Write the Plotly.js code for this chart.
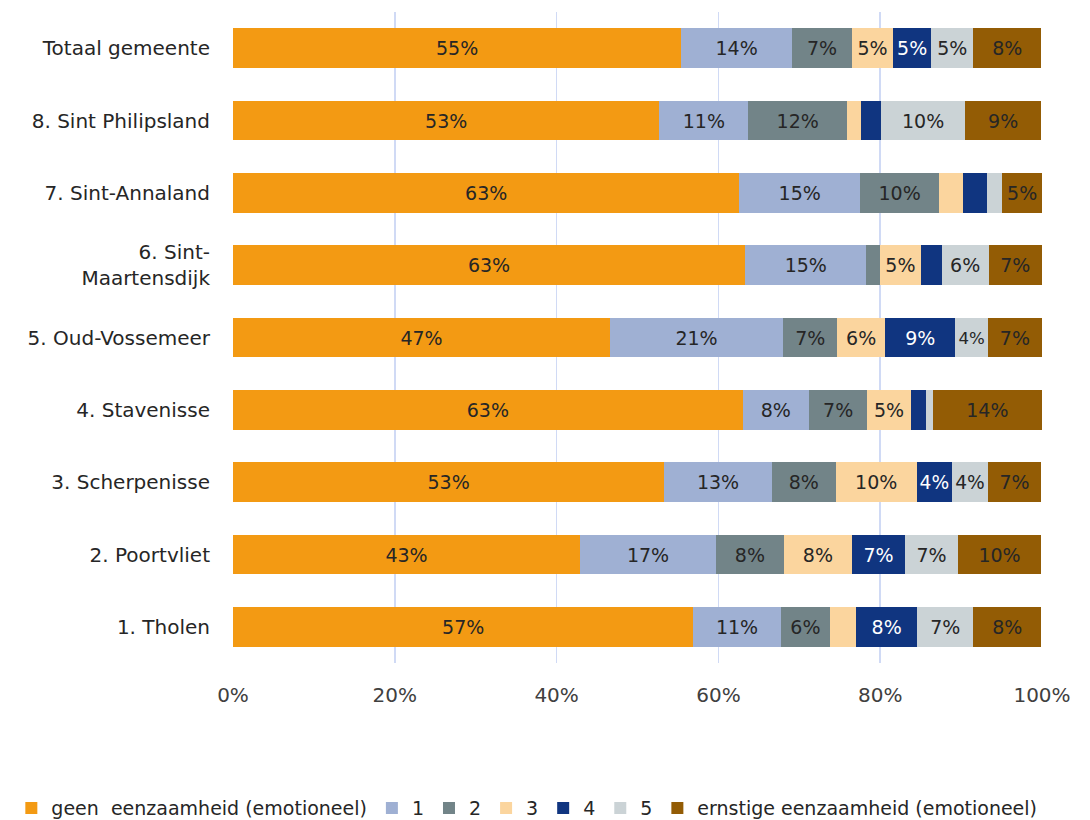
<!DOCTYPE html>
<html>
<head>
<meta charset="utf-8">
<script src="https://cdn.plot.ly/plotly-3.0.1.min.js"></script>
<style>html,body{margin:0;padding:0;background:#fff;}#chart{width:1090px;height:820px;}</style>
</head>
<body>
<div id="chart"></div>
<script>
// Categories (bottom to top)
var categories = ["1. Tholen", "2. Poortvliet", "3. Scherpenisse", "4. Stavenisse", "5. Oud-Vossemeer",
  "6. Sint-<br>Maartensdijk", "7. Sint-Annaland", "8. Sint Philipsland", "Totaal gemeente"];

var seriesNames = ["geen\u00A0 eenzaamheid (emotioneel)", "1", "2", "3", "4", "5", "ernstige eenzaamheid (emotioneel)"];

// Values in percent, order matches categories
var geen     = [56.9, 42.9, 53.3, 63.0, 46.6, 63.3, 62.6, 52.7, 55.4];
var s1       = [10.8, 16.8, 13.3,  8.2, 21.4, 15.0, 14.9, 11.0, 13.7];
var s2       = [ 6.1,  8.4,  7.9,  7.2,  6.7,  1.7,  9.8, 12.2,  7.4];
var s3       = [ 3.2,  8.4, 10.0,  5.4,  5.9,  5.0,  2.9,  1.7,  5.1];
var s4       = [ 7.6,  6.6,  4.4,  1.8,  8.7,  2.6,  3.0,  2.5,  4.7];
var s5       = [ 6.9,  6.5,  4.4,  0.9,  4.0,  5.8,  1.9, 10.4,  5.2];
var ernstig  = [ 8.4, 10.3,  6.6, 13.5,  6.7,  6.6,  4.9,  9.4,  8.4];

var seriesValues = [geen, s1, s2, s3, s4, s5, ernstig];
var colors = ["#F39A13", "#9FB0D3", "#728488", "#FBD59E", "#103580", "#CBD3D6", "#935C05"];
var textColors = ["#262626", "#262626", "#262626", "#262626", "#FFFFFF", "#262626", "#262626"];

var xTickVals = [0, 20, 40, 60, 80, 100];
var xTickText = ["0%", "20%", "40%", "60%", "80%", "100%"];

var FONT = "DejaVu Sans, Verdana, sans-serif";

var traces = seriesValues.map(function (vals, i) {
  return {
    type: "bar",
    orientation: "h",
    name: seriesNames[i],
    y: categories,
    x: vals,
    marker: { color: colors[i], line: { width: 0 } },
    text: vals.map(function (v) { return v >= 3.5 ? Math.round(v) + "%" : ""; }),
    textposition: "inside",
    insidetextanchor: "middle",
    textangle: 0,
    textfont: { family: FONT, size: 19, color: textColors[i] },
    hoverinfo: "name+x"
  };
});

var layout = {
  width: 1090,
  height: 820,
  barmode: "stack",
  bargap: 0.45,
  paper_bgcolor: "#ffffff",
  plot_bgcolor: "#ffffff",
  margin: { l: 233, r: 48, t: 12, b: 157, autoexpand: false },
  font: { family: FONT, size: 19, color: "#404040" },
  xaxis: {
    range: [0, 100],
    tickvals: xTickVals,
    ticktext: xTickText,
    showgrid: true,
    gridcolor: "#D0DAF5",
    gridwidth: 1.5,
    zeroline: false,
    showline: false,
    ticks: "",
    ticklabelstandoff: 18,
    tickfont: { family: FONT, size: 20, color: "#404040" },
    automargin: false,
    fixedrange: true
  },
  yaxis: {
    type: "category",
    categoryorder: "array",
    categoryarray: categories,
    showgrid: false,
    zeroline: false,
    showline: false,
    ticks: "",
    ticklabelstandoff: 22,
    tickfont: { family: FONT, size: 20, color: "#262626" },
    automargin: false,
    fixedrange: true
  },
  legend: {
    orientation: "h",
    x: -0.274,
    xanchor: "left",
    y: -0.223,
    yanchor: "middle",
    traceorder: "normal",
    font: { family: FONT, size: 19, color: "#262626" },
    itemwidth: 30,
    tracegroupgap: 0
  },
  showlegend: true
};

Plotly.newPlot("chart", traces, layout, { displayModeBar: false, staticPlot: true });
</script>
</body>
</html>
